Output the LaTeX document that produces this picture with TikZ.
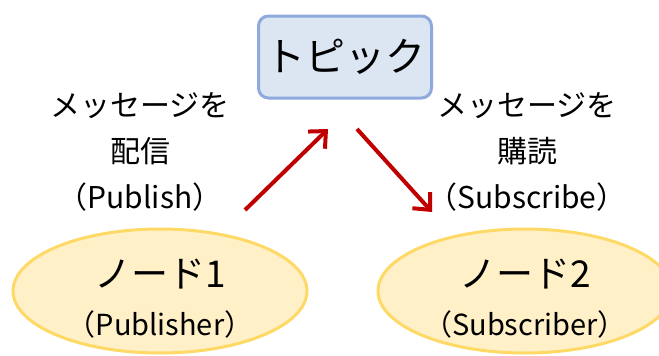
\documentclass[tikz,border=0pt]{standalone}
\usepackage{fontspec}
\usetikzlibrary{shapes.geometric,arrows.meta}
\setmainfont{Noto Sans CJK JP}
\definecolor{topicfill}{HTML}{DCE6F2}
\definecolor{topicdraw}{HTML}{8EAADC}
\definecolor{nodefill}{HTML}{FFF0C8}
\definecolor{nodedraw}{HTML}{FFD966}
\definecolor{arrowred}{HTML}{C00000}
\begin{document}
\begin{tikzpicture}[x=1pt,y=-1pt,
  topicbox/.style={draw=topicdraw,fill=topicfill,line width=3pt,rounded corners=10pt,minimum width=173pt,minimum height=82pt,inner sep=0pt},
  nodeell/.style={ellipse,draw=nodedraw,fill=nodefill,line width=3pt,minimum width=294pt,minimum height=124pt,inner sep=0pt},
  lbl/.style={font=\fontsize{30}{34}\selectfont,align=center,inner sep=0pt},
  arr/.style={draw=arrowred,line width=4pt,-{Straight Barb[length=13pt,width=24pt,line width=4pt]}}
]
\useasboundingbox (0,0) rectangle (659,356);
\node[topicbox] (topic) at (345,57) {\fontsize{40}{44}\selectfont トピック};
\node[nodeell] (n1) at (160,291) {};
\node[nodeell] (n2) at (525,291) {};
\node[inner sep=0pt] (n1a) at (160,274) {\fontsize{37}{40}\selectfont ノード1};
\node[inner sep=0pt] (n1b) at (160,324) {\fontsize{29}{30}\selectfont （Publisher）};
\node[inner sep=0pt] (n2a) at (525,274) {\fontsize{37}{40}\selectfont ノード2};
\node[inner sep=0pt] (n2b) at (525,324) {\fontsize{29}{30}\selectfont （Subscriber）};
\node[lbl] (l1) at (140,106) {メッセージを};
\node[lbl] (l2) at (140,151) {配信};
\node[lbl] (l3) at (140,197) {（Publish）};
\node[lbl] (r1) at (527,106) {メッセージを};
\node[lbl] (r2) at (527,151) {購読};
\node[lbl] (r3) at (527,197) {（Subscribe）};
\coordinate (a1s) at (245,210);
\coordinate (a1e) at (328,129);
\coordinate (a2s) at (357,129);
\coordinate (a2e) at (432,212);
\draw[arr] (a1s) -- (a1e);
\draw[arr] (a2s) -- (a2e);
\end{tikzpicture}
\end{document}
